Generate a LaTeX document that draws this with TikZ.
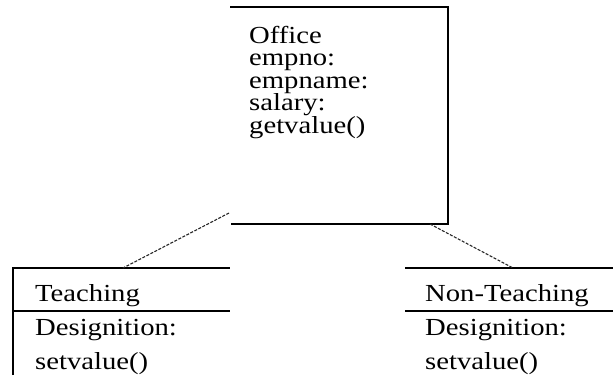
\documentclass[tikz,border=0pt]{standalone}
\usepackage{fontspec}
\setmainfont[FakeStretch=1.17]{Liberation Serif}
\begin{document}
\begin{tikzpicture}[x=1bp,y=-1bp,
  txt/.style={anchor=base west,inner sep=0pt,font=\fontsize{24.5bp}{26bp}\selectfont},
  boxline/.style={line width=1.3bp,black},
  link/.style={line width=1.1bp,dash pattern=on 3bp off 1.5bp,black!85}]
\useasboundingbox (0,0) rectangle (613,375);
% Office class (open on the left)
\draw[boxline] (230,7) -- (448,7) -- (448,224) -- (231,224);
\node[txt] (o1) at (249,43) {Office};
\node[txt] (o2) at (249,65.5) {empno:};
\node[txt] (o3) at (249,88) {empname:};
\node[txt] (o4) at (249,110.5) {salary:};
\node[txt] (o5) at (249,133) {getvalue()};
% Teaching class
\draw[boxline] (13,375) -- (13,268) -- (230,268);
\draw[boxline] (13,311) -- (230,311);
\node[txt] (t1) at (35,301) {Teaching};
\node[txt] (t2) at (35,335) {Designition:};
\node[txt] (t3) at (35,369) {setvalue()};
% Non-Teaching class
\draw[boxline] (405,268) -- (613,268);
\draw[boxline] (405,311) -- (613,311);
\node[txt] (n1) at (425,301) {Non-Teaching};
\node[txt] (n2) at (425,335) {Designition:};
\node[txt] (n3) at (425,369) {setvalue()};
% connectors
\coordinate (officeL) at (229,213);
\coordinate (teachTop) at (123,268);
\coordinate (officeR) at (430,224);
\coordinate (nonTop) at (513,268);
\draw[link] (officeL) -- (teachTop);
\draw[link] (officeR) -- (nonTop);
\end{tikzpicture}
\end{document}
